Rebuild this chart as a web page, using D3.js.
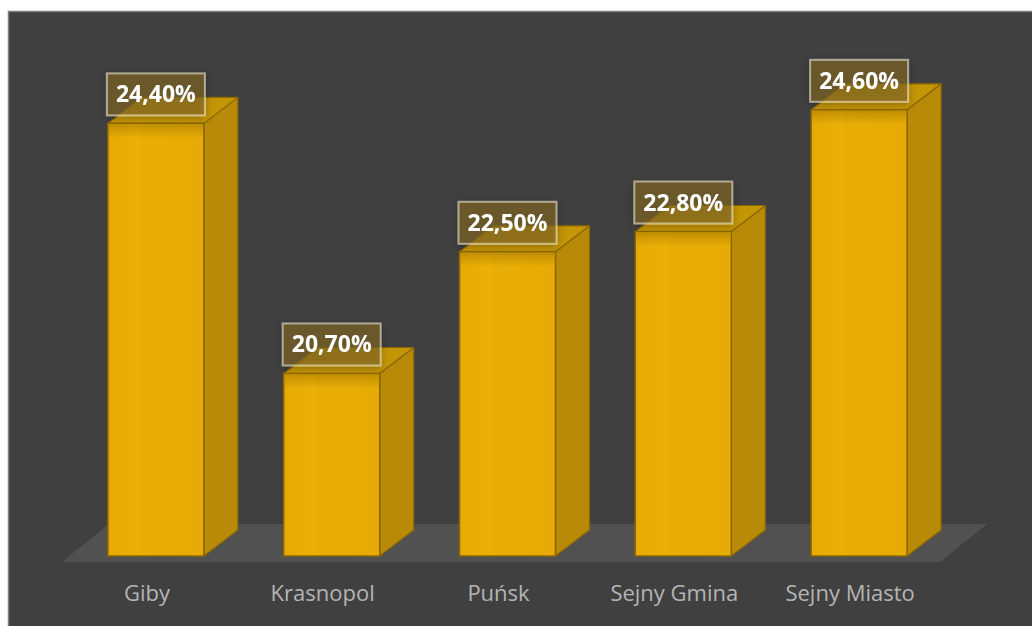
<!DOCTYPE html>
<html>
<head>
<meta charset="utf-8">
<script src="https://cdn.jsdelivr.net/npm/d3@7"></script>
<style>
  html, body { margin: 0; padding: 0; background: #ffffff; }
  svg { display: block; }
</style>
</head>
<body>
<svg id="chart" width="1032" height="626"></svg>
<script>
// ---- Data ----
const categories = ["Giby", "Krasnopol", "Puńsk", "Sejny Gmina", "Sejny Miasto"];
const values = [24.4, 20.7, 22.5, 22.8, 24.6];
const valueLabels = ["24,40%", "20,70%", "22,50%", "22,80%", "24,60%"];

// ---- Layout ----
const W = 1032, H = 626;
const svg = d3.select("#chart");
const depthX = 34, depthY = -26;         // bar depth offset
const floorDX = 47, floorDY = -38;       // floor depth offset

const x = d3.scaleBand()
  .domain(categories)
  .range([68, 947])
  .paddingInner(0.454)
  .paddingOuter(0.227);

const y = d3.scaleLinear()
  .domain([18, 25])
  .range([556, 556 - 7 * 67.6]);

// chart background
svg.append("rect")
  .attr("x", 8.5).attr("y", 11.5)
  .attr("width", W).attr("height", H)
  .attr("fill", "#404040")
  .attr("stroke", "#7f7f7f").attr("stroke-width", 1.5);

// floor
const fx0 = 62, fx1 = 940, fy = 562;
svg.append("path")
  .attr("d", `M${fx0},${fy} L${fx1},${fy} L${fx1 + floorDX},${fy + floorDY} L${fx0 + floorDX},${fy + floorDY} Z`)
  .attr("fill", "#525151");

// defs
const defs = svg.append("defs");
const f = defs.append("filter").attr("id", "lblShadow")
  .attr("x", "-30%").attr("y", "-30%").attr("width", "160%").attr("height", "160%");
f.append("feGaussianBlur").attr("in", "SourceAlpha").attr("stdDeviation", 4).attr("result", "b");
f.append("feOffset").attr("in", "b").attr("dx", 0).attr("dy", 2).attr("result", "o");
f.append("feComponentTransfer").attr("in", "o").attr("result", "s")
  .append("feFuncA").attr("type", "linear").attr("slope", 0.4);
const fm = f.append("feMerge");
fm.append("feMergeNode").attr("in", "s");
fm.append("feMergeNode").attr("in", "SourceGraphic");

const fg = defs.append("linearGradient").attr("id", "frontGrad")
  .attr("x1", "0").attr("x2", "1").attr("y1", "0").attr("y2", "0");
fg.append("stop").attr("offset", "0%").attr("stop-color", "#e6aa05");
fg.append("stop").attr("offset", "33%").attr("stop-color", "#ebb106");
fg.append("stop").attr("offset", "34%").attr("stop-color", "#e8ae06");
fg.append("stop").attr("offset", "100%").attr("stop-color", "#e6ab04");

const sg = defs.append("linearGradient").attr("id", "topShade")
  .attr("x1", "0").attr("x2", "0").attr("y1", "0").attr("y2", "1");
sg.append("stop").attr("offset", "0%").attr("stop-color", "#7a5a00").attr("stop-opacity", 0.35);
sg.append("stop").attr("offset", "100%").attr("stop-color", "#7a5a00").attr("stop-opacity", 0);

const edge = "#8a6700";

const bars = svg.selectAll("g.bar")
  .data(categories.map((c, i) => ({ c, v: values[i], lbl: valueLabels[i] })))
  .enter().append("g").attr("class", "bar");

bars.each(function (d) {
  const g = d3.select(this);
  const x0 = x(d.c), x1 = x(d.c) + x.bandwidth();
  const yt = y(d.v), yb = y(18);
  // side face
  g.append("path")
    .attr("d", `M${x1},${yb} L${x1 + depthX},${yb + depthY} L${x1 + depthX},${yt + depthY} L${x1},${yt} Z`)
    .attr("fill", "#b88a08").attr("stroke", edge).attr("stroke-width", 1.2)
    .attr("stroke-linejoin", "round");
  // top face
  g.append("path")
    .attr("d", `M${x0},${yt} L${x1},${yt} L${x1 + depthX},${yt + depthY} L${x0 + depthX},${yt + depthY} Z`)
    .attr("fill", "#c49505").attr("stroke", edge).attr("stroke-width", 1.2)
    .attr("stroke-linejoin", "round");
  // front face
  g.append("rect")
    .attr("x", x0).attr("y", yt)
    .attr("width", x1 - x0).attr("height", yb - yt)
    .attr("fill", "url(#frontGrad)")
    .attr("stroke", edge).attr("stroke-width", 1.5);
  // soft top shade
  g.append("rect")
    .attr("x", x0 + 1).attr("y", yt + 1)
    .attr("width", x1 - x0 - 2).attr("height", 14)
    .attr("fill", "url(#topShade)");
});

// data labels
bars.each(function (d) {
  const g = d3.select(this);
  const cx = x(d.c) + x.bandwidth() / 2;
  const bw = 98, bh = 42;
  const yb = y(d.v) - 8;
  const lg = g.append("g").attr("filter", "url(#lblShadow)");
  lg.append("rect")
    .attr("x", cx - bw / 2).attr("y", yb - bh)
    .attr("width", bw).attr("height", bh)
    .attr("fill", "rgba(130,105,40,0.62)")
    .attr("stroke", "rgba(235,228,205,0.6)").attr("stroke-width", 2);
  lg.append("text")
    .attr("x", cx).attr("y", yb - bh / 2 + 8)
    .attr("text-anchor", "middle")
    .attr("font-family", "'Open Sans', 'Noto Sans', sans-serif")
    .attr("font-weight", "bold")
    .attr("font-size", 23)
    .attr("fill", "#ffffff")
    .text(d.lbl);
});

// category axis labels
const xAxis = d3.axisBottom(x).tickSize(0).tickPadding(0);
const ax = svg.append("g").attr("transform", "translate(-9, 585)").call(xAxis);
ax.select(".domain").remove();
ax.selectAll("text")
  .attr("font-family", "'Open Sans', 'Noto Sans', sans-serif")
  .attr("font-size", 22)
  .attr("fill", "#b4b4b4");
</script>
</body>
</html>
